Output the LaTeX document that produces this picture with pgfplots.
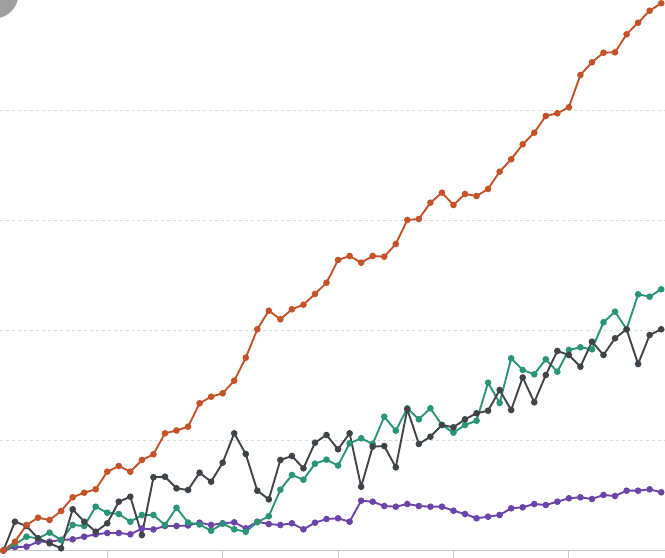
\documentclass[border=0pt]{standalone}
\usepackage{pgfplots}
\usepackage{pgfplotstable}
\pgfplotsset{compat=1.18}
\definecolor{cOr}{HTML}{C4532A}
\definecolor{cGr}{HTML}{2A9478}
\definecolor{cDk}{HTML}{404448}
\definecolor{cPu}{HTML}{6A44A8}
\definecolor{cGrid}{HTML}{D8D8D8}
\definecolor{cAx}{HTML}{C8C8C8}
\pgfplotstableread{
i o g d p
1 0 0 0 0
2 8.8 6 28.8 3.5
3 25.5 13.8 24.5 3.8
4 32.8 12.2 12.2 8.8
5 30.5 17.8 7.2 8.8
6 39.5 10.5 2.2 10.5
7 53.2 25.5 41.2 11.2
8 57.8 24.5 28.8 13.8
9 61.2 43.8 18.8 16.2
10 78.8 37.8 27.2 17.5
11 84.5 36.5 48.8 17.5
12 78.8 28.8 53.8 16.2
13 90.5 35.5 15.5 22
14 96.2 35.5 73.2 21
15 117.2 25.5 73.8 24.5
16 120 42.7 62.2 24.5
17 123.8 28 60.5 25
18 147.2 26 77.8 27.8
19 153.8 19.7 68.8 25.5
20 157.2 26.8 87.8 27.2
21 169.8 21.2 117.2 28.2
22 192.8 18.8 96.5 22.2
23 221.2 28.3 59.8 28.8
24 239.8 34.3 51.2 26.5
25 231.2 60.8 90.5 25.5
26 241.2 75.5 94.5 27.2
27 245.8 70.8 82.2 21.2
28 256.5 86.8 107.8 27.8
29 267.8 90.8 115.5 31.5
30 290.5 85 101.2 32.2
31 294.5 107.2 117.2 28.8
32 287.8 112.2 63.8 49.8
33 294.5 106.5 103.8 48.8
34 293.8 133.8 104.5 44.5
35 306.5 119.8 83.2 43.8
36 330.5 142.2 141.2 46.5
37 331.5 131.2 106.5 44.5
38 347.8 142.2 113.8 43.8
39 357.8 125.5 125.5 43.8
40 345.5 117.8 123.2 39.8
41 356.5 125.5 131.2 36.5
42 354.5 129.8 137.2 32.2
43 361.5 167.8 139.8 33.8
44 378.8 147.5 160.5 35.5
45 391.2 192.2 140.5 42.2
46 406.2 180.5 173 43.2
47 417.8 176.2 148.2 46.5
48 434.5 191.2 175.5 45.5
49 437.2 178.8 199.5 48.8
50 443.2 200.5 195.5 52.2
51 475.5 203.2 183.8 53.2
52 488.2 201.2 208.8 51.5
53 497.8 228.2 195.5 55.5
54 498.2 238.8 212.2 54.5
55 516.2 221.2 221.2 59.8
56 527.8 256.2 186.5 59.8
57 539.8 253.8 215.5 61.2
58 547.2 261.2 221.2 58.2
}\data
\begin{document}
\begin{tikzpicture}
\useasboundingbox (0,0) rectangle (665bp,558bp);
\begin{axis}[
  at={(0,0)}, anchor=south west,
  scale only axis, width=665bp, height=558bp,
  xmin=0.705, xmax=58.33, ymin=-7.5, ymax=550.5,
  clip=false,
  axis line style={draw=none},
  xtick={10,20,30,40,50}, xticklabels={},
  xtick pos=bottom, ytick pos=left,
  tick align=inside, major tick length=7.5bp,
  x tick style={cAx, line width=1bp},
  ytick={110,220,330,440}, yticklabels={},
  y tick style={draw=none},
  ymajorgrids, major grid style={cGrid, dashed, line width=0.8bp},
  extra y ticks={0}, extra y tick labels={},
  extra y tick style={grid=major, major grid style={cAx, solid, line width=1.2bp}, tick style={draw=none}},
  every axis plot/.append style={line width=1.9bp, mark=*, mark size=2.3bp, mark options={solid}},
]
\addplot[cPu] table[x=i, y=p] {\data};
\addplot[cGr] table[x=i, y=g] {\data};
\addplot[cDk] table[x=i, y=d] {\data};
\addplot[cOr] table[x=i, y=o] {\data};
\end{axis}
\fill[gray!75] (-6bp,564bp) circle (24.5bp);
\end{tikzpicture}
\end{document}
